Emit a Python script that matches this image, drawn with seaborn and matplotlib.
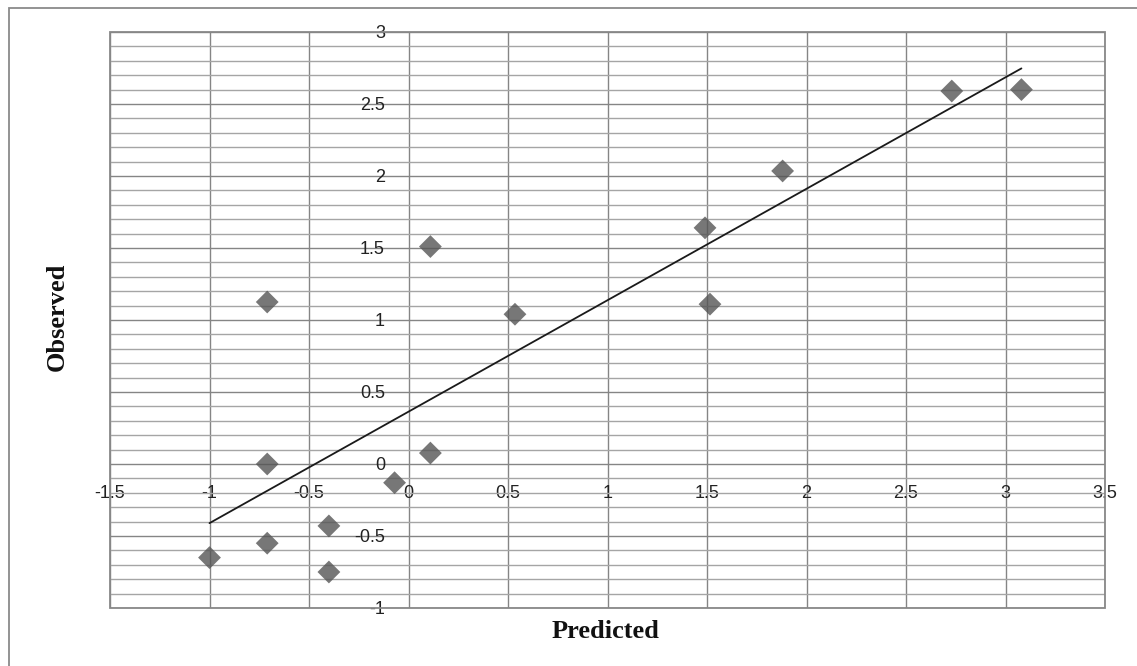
import matplotlib
matplotlib.use("Agg")
import matplotlib.pyplot as plt
import seaborn as sns
import numpy as np
import pandas as pd
from matplotlib.patches import Rectangle
from matplotlib.ticker import MultipleLocator

predicted = [-1.00, -0.71, -0.71, -0.71, -0.40, -0.40, -0.07, 0.11, 0.11, 0.535, 1.49, 1.515, 1.88, 2.73, 3.08]
observed = [-0.65, 0.00, 1.125, -0.55, -0.43, -0.75, -0.13, 0.076, 1.51, 1.04, 1.64, 1.11, 2.035, 2.59, 2.60]
x_ticks = [-1.5, -1, -0.5, 0, 0.5, 1, 1.5, 2, 2.5, 3, 3.5]
y_ticks = [-1, -0.5, 0, 0.5, 1, 1.5, 2, 2.5, 3]

df = pd.DataFrame({"Predicted": predicted, "Observed": observed})

sns.set_style("white")
fig = plt.figure(figsize=(11.37, 6.66), dpi=100)
ax = fig.add_axes([110/1137, 58/666, 995/1137, 576/666])

sns.regplot(data=df, x="Predicted", y="Observed", ci=None, truncate=True, ax=ax,
            marker="D", scatter_kws=dict(s=135, color="#555555", edgecolors="none", zorder=4),
            line_kws=dict(color="#1a1a1a", lw=1.3, zorder=3))

ax.set_xlim(-1.5, 3.5)
ax.set_ylim(-1, 3)
ax.set_xticks(x_ticks)
ax.set_yticks(y_ticks)
ax.set_xticklabels([f"{v:g}" for v in x_ticks])
ax.set_yticklabels([f"{v:g}" for v in y_ticks])
ax.yaxis.set_minor_locator(MultipleLocator(0.1))

ax.grid(True, which="major", axis="x", color="#858585", lw=1.0, zorder=0)
ax.grid(True, which="major", axis="y", color="#858585", lw=1.0, zorder=0)
ax.grid(True, which="minor", axis="y", color="#a5a5a5", lw=1.0, zorder=0)
ax.set_axisbelow(True)

# axes cross at origin (Excel style)
ax.spines["left"].set_position(("data", 0))
ax.spines["bottom"].set_position(("data", 0))
for s in ax.spines.values():
    s.set_color("none")
ax.add_patch(Rectangle((0, 0), 1, 1, transform=ax.transAxes, fill=False,
                       edgecolor="#888888", lw=1.3, zorder=5, clip_on=False))

ax.tick_params(axis="both", which="both", length=0, colors="#222222")
ax.tick_params(axis="y", pad=17)
ax.tick_params(axis="x", pad=15)
for lab in ax.get_xticklabels() + ax.get_yticklabels():
    lab.set_fontfamily(["Liberation Sans", "DejaVu Sans"])
    lab.set_fontsize(13)

ax.set_xlabel("")
ax.set_ylabel("")
lab_font = dict(family=["Liberation Serif", "DejaVu Serif"], size=19, weight="bold", color="#111111")
fig.text(606/1137, 1 - 631/666, "Predicted", ha="center", va="center", **lab_font)
fig.text(57/1137, 1 - 317/666, "Observed", ha="center", va="center", rotation=90, **lab_font)

# outer chart border
fig.add_artist(Rectangle((9/1137, -0.1), 1.2, 1 - 8/666 + 0.1, transform=fig.transFigure,
                         fill=False, edgecolor="#8a8a8a", lw=1.3))

fig.savefig("out.png", dpi=100, facecolor="white")
